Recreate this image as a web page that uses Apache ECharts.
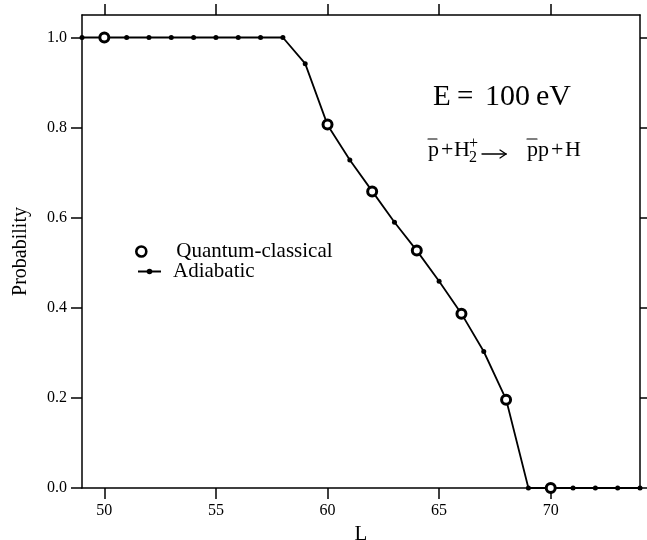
<!DOCTYPE html>
<html><head><meta charset="utf-8">
<script src="https://cdn.jsdelivr.net/npm/echarts@6/dist/echarts.min.js"></script>
<style>html,body{margin:0;padding:0;background:#fff}#c{width:647px;height:540px}</style>
</head><body><div id="c"></div>
<script>
const adiabaticL = [49,50,51,52,53,54,55,56,57,58,59,60,61,62,63,64,65,66,67,68,69,70,71,72,73,74];
const adiabaticP = [1,1,1,1,1,1,1,1,1,1,0.942,0.806,0.728,0.659,0.590,0.527,0.459,0.387,0.303,0.197,0,0,0,0,0,0];
const quantumL = [50,60,62,64,66,68,70];
const quantumP = [1.0,0.807,0.658,0.527,0.387,0.196,0.0];
const xTicks = [50,55,60,65,70];
const yTicks = [0,0.2,0.4,0.6,0.8,1.0];

const FF = 'Liberation Serif';
const chart = echarts.init(document.getElementById('c'));
const axisLine = {show:true, onZero:false, lineStyle:{color:'#000', width:1.5}};
const tickX = {show:true, customValues:xTicks, length:11, lineStyle:{color:'#000', width:1.5}};
const tickY = {show:true, customValues:yTicks, length:11, lineStyle:{color:'#000', width:1.5}};
const txt = (x, y, s, fs) => ({type:'text', x:x, y:y, style:{text:s, font: fs + 'px "' + FF + '"', fill:'#000', textAlign:'left', textVerticalAlign:'middle'}});
const seg = (x1, y1, x2, y2, w) => ({type:'line', shape:{x1:x1, y1:y1, x2:x2, y2:y2}, style:{stroke:'#000', lineWidth:w, lineCap:'round'}});

chart.setOption({
  animation:false,
  backgroundColor:'#fff',
  grid:{left:82, right:7, top:15, bottom:52, containLabel:false, outerBoundsMode:'none'},
  xAxis:[
    {type:'value', position:'bottom', min:49, max:74, axisLine:axisLine, axisTick:tickX,
     axisLabel:{customValues:xTicks, fontSize:16, fontFamily:FF, color:'#000', margin:15},
     splitLine:{show:false}, name:'L', nameLocation:'middle', nameGap:33,
     nameTextStyle:{fontSize:21, fontFamily:FF, color:'#000'}},
    {type:'value', position:'top', min:49, max:74, axisLine:axisLine, axisTick:tickX,
     axisLabel:{show:false}, splitLine:{show:false}}
  ],
  yAxis:[
    {type:'value', position:'left', min:0, max:1.05, axisLine:axisLine, axisTick:tickY,
     axisLabel:{customValues:yTicks, fontSize:16, fontFamily:FF, color:'#000', margin:15,
                formatter:v => v.toFixed(1)},
     splitLine:{show:false}, name:'Probability', nameLocation:'middle', nameGap:51,
     nameTextStyle:{fontSize:20, fontFamily:FF, color:'#000'}},
    {type:'value', position:'right', min:0, max:1.05, axisLine:axisLine, axisTick:tickY,
     axisLabel:{show:false}, splitLine:{show:false}}
  ],
  legend:[
    {data:['Quantum-classical'], orient:'vertical', left:135, top:241, padding:0,
     itemWidth:10, itemHeight:10,
     itemStyle:{color:'#fff', borderColor:'#000', borderWidth:2.6, opacity:1},
     textStyle:{fontSize:21, fontFamily:FF, color:'#000', padding:[0,0,0,25]}},
    {data:['Adiabatic'], orient:'vertical', left:137, top:261, padding:0,
     itemWidth:23, itemHeight:7,
     textStyle:{fontSize:21, fontFamily:FF, color:'#000', padding:[0,0,0,7]}}
  ],
  series:[
    {name:'Adiabatic', type:'line', clip:false, z:2,
     data:adiabaticL.map((l,i)=>[l, adiabaticP[i]]),
     symbol:'circle', symbolSize:5, showAllSymbol:true,
     lineStyle:{color:'#000', width:1.8}, itemStyle:{color:'#000'}},
    {name:'Quantum-classical', type:'scatter', clip:false, z:3,
     data:quantumL.map((l,i)=>[l, quantumP[i]]),
     symbol:'circle', symbolSize:9,
     itemStyle:{color:'#fff', borderColor:'#000', borderWidth:3, opacity:1}}
  ],
  graphic:[
    txt(433, 97.5, 'E', 29),
    txt(457, 97.5, '=', 29),
    txt(485, 97.5, '100', 30),
    txt(536, 97.5, 'eV', 30),
    txt(428, 150.5, 'p', 22),
    seg(428, 139, 437, 139, 1.2),
    txt(441, 150.5, '+', 22),
    txt(454, 150.5, 'H', 22),
    txt(469, 144, '+', 16),
    txt(469, 157.5, '2', 16),
    seg(482, 154, 506, 154, 1.3),
    seg(506, 154, 500, 150, 1.3),
    seg(506, 154, 500, 158, 1.3),
    txt(527, 150.5, 'pp', 22),
    seg(527, 139, 537, 139, 1.2),
    txt(551, 150.5, '+', 22),
    txt(565, 150.5, 'H', 22)
  ]
});
</script></body></html>
